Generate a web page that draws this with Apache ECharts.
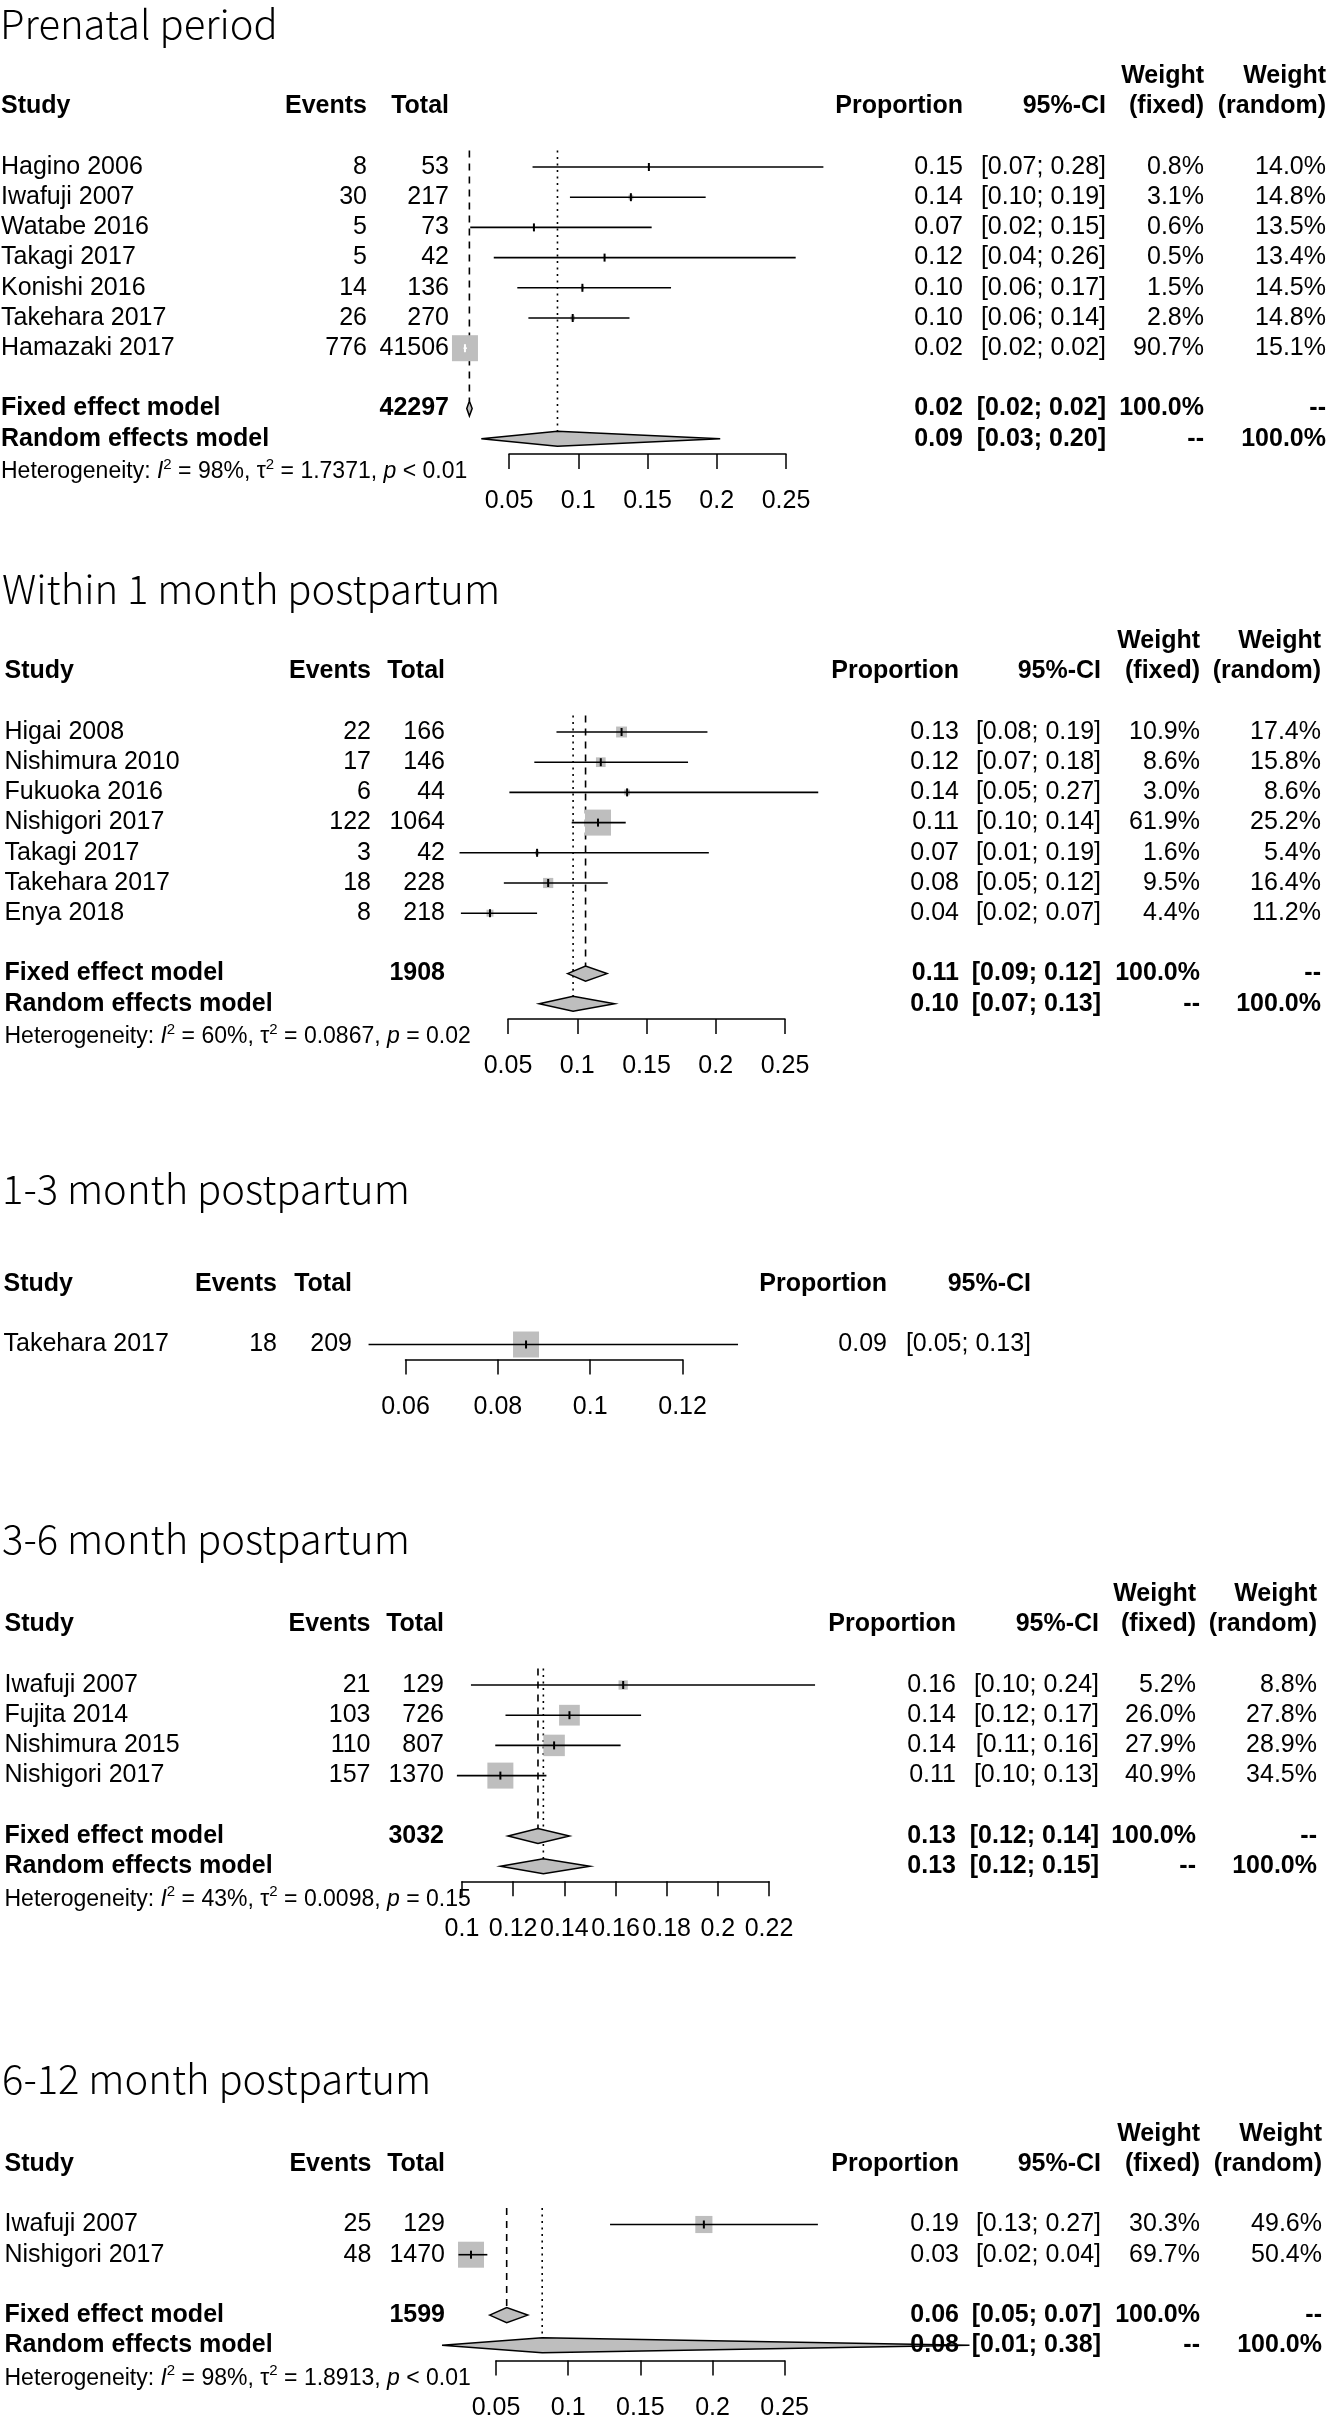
<!DOCTYPE html>
<html><head><meta charset="utf-8">
<script src="https://cdn.jsdelivr.net/npm/echarts@6/dist/echarts.min.js"></script>
<style>html,body{margin:0;padding:0;background:#fff}#c{width:1327px;height:2424px}</style>
</head><body><div id="c"></div>
<script>
// ================= DATA =================
const titles = ['Prenatal period', 'Within 1 month postpartum', '1-3 month postpartum', '3-6 month postpartum', '6-12 month postpartum'];

// Panel 1: Prenatal period
const p1Study = ['Hagino 2006', 'Iwafuji 2007', 'Watabe 2016', 'Takagi 2017', 'Konishi 2016', 'Takehara 2017', 'Hamazaki 2017'];
const p1Events = [8, 30, 5, 5, 14, 26, 776];
const p1Total = [53, 217, 73, 42, 136, 270, 41506];
const p1Est = [0.151, 0.138, 0.068, 0.119, 0.103, 0.096, 0.0182];
const p1Lo = [0.067, 0.094, 0.022, 0.039, 0.056, 0.064, 0.0172];
const p1Hi = [0.277, 0.192, 0.153, 0.257, 0.167, 0.137, 0.0196];
const p1Prop = ['0.15', '0.14', '0.07', '0.12', '0.10', '0.10', '0.02'];
const p1Ci = ['[0.07; 0.28]', '[0.10; 0.19]', '[0.02; 0.15]', '[0.04; 0.26]', '[0.06; 0.17]', '[0.06; 0.14]', '[0.02; 0.02]'];
const p1WFixed = [0.8, 3.1, 0.6, 0.5, 1.5, 2.8, 90.7];
const p1WRandom = [14.0, 14.8, 13.5, 13.4, 14.5, 14.8, 15.1];
const p1FixedVals = [0.0214, 0.0195, 0.0234];
const p1FixedText = ['42297', '0.02', '[0.02; 0.02]', '100.0%', '--'];
const p1RandomVals = [0.085, 0.030, 0.2025];
const p1RandomText = ['', '0.09', '[0.03; 0.20]', '--', '100.0%'];
const p1Het = ['98%', '1.7371', '< 0.01'];
const p1Ticks = [0.05, 0.1, 0.15, 0.2, 0.25];

// Panel 2: Within 1 month postpartum
const p2Study = ['Higai 2008', 'Nishimura 2010', 'Fukuoka 2016', 'Nishigori 2017', 'Takagi 2017', 'Takehara 2017', 'Enya 2018'];
const p2Events = [22, 17, 6, 122, 3, 18, 8];
const p2Total = [166, 146, 44, 1064, 42, 228, 218];
const p2Est = [0.132, 0.117, 0.136, 0.115, 0.071, 0.079, 0.037];
const p2Lo = [0.085, 0.069, 0.051, 0.096, 0.015, 0.047, 0.016];
const p2Hi = [0.194, 0.180, 0.274, 0.135, 0.195, 0.122, 0.071];
const p2Prop = ['0.13', '0.12', '0.14', '0.11', '0.07', '0.08', '0.04'];
const p2Ci = ['[0.08; 0.19]', '[0.07; 0.18]', '[0.05; 0.27]', '[0.10; 0.14]', '[0.01; 0.19]', '[0.05; 0.12]', '[0.02; 0.07]'];
const p2WFixed = [10.9, 8.6, 3.0, 61.9, 1.6, 9.5, 4.4];
const p2WRandom = [17.4, 15.8, 8.6, 25.2, 5.4, 16.4, 11.2];
const p2FixedVals = [0.106, 0.093, 0.1215];
const p2FixedText = ['1908', '0.11', '[0.09; 0.12]', '100.0%', '--'];
const p2RandomVals = [0.097, 0.0725, 0.127];
const p2RandomText = ['', '0.10', '[0.07; 0.13]', '--', '100.0%'];
const p2Het = ['60%', '0.0867', '= 0.02'];
const p2Ticks = [0.05, 0.1, 0.15, 0.2, 0.25];

// Panel 3: 1-3 month postpartum
const p3Study = ['Takehara 2017'];
const p3Events = [18];
const p3Total = [209];
const p3Est = [0.0861];
const p3Lo = [0.052];
const p3Hi = [0.132];
const p3Prop = ['0.09'];
const p3Ci = ['[0.05; 0.13]'];
const p3WFixed = [100];
const p3Ticks = [0.06, 0.08, 0.1, 0.12];

// Panel 4: 3-6 month postpartum
const p4Study = ['Iwafuji 2007', 'Fujita 2014', 'Nishimura 2015', 'Nishigori 2017'];
const p4Events = [21, 103, 110, 157];
const p4Total = [129, 726, 807, 1370];
const p4Est = [0.163, 0.142, 0.136, 0.115];
const p4Lo = [0.1035, 0.117, 0.113, 0.098];
const p4Hi = [0.238, 0.170, 0.162, 0.133];
const p4Prop = ['0.16', '0.14', '0.14', '0.11'];
const p4Ci = ['[0.10; 0.24]', '[0.12; 0.17]', '[0.11; 0.16]', '[0.10; 0.13]'];
const p4WFixed = [5.2, 26.0, 27.9, 40.9];
const p4WRandom = [8.8, 27.8, 28.9, 34.5];
const p4FixedVals = [0.1297, 0.118, 0.142];
const p4FixedText = ['3032', '0.13', '[0.12; 0.14]', '100.0%', '--'];
const p4RandomVals = [0.1318, 0.115, 0.150];
const p4RandomText = ['', '0.13', '[0.12; 0.15]', '--', '100.0%'];
const p4Het = ['43%', '0.0098', '= 0.15'];
const p4Ticks = [0.1, 0.12, 0.14, 0.16, 0.18, 0.2, 0.22];

// Panel 5: 6-12 month postpartum
const p5Study = ['Iwafuji 2007', 'Nishigori 2017'];
const p5Events = [25, 48];
const p5Total = [129, 1470];
const p5Est = [0.194, 0.0327];
const p5Lo = [0.129, 0.024];
const p5Hi = [0.273, 0.044];
const p5Prop = ['0.19', '0.03'];
const p5Ci = ['[0.13; 0.27]', '[0.02; 0.04]'];
const p5WFixed = [30.3, 69.7];
const p5WRandom = [49.6, 50.4];
const p5FixedVals = [0.0574, 0.0456, 0.072];
const p5FixedText = ['1599', '0.06', '[0.05; 0.07]', '100.0%', '--'];
const p5RandomVals = [0.082, 0.0126, 0.378];
const p5RandomText = ['', '0.08', '[0.01; 0.38]', '--', '100.0%'];
const p5Het = ['98%', '1.8913', '< 0.01'];
const p5Ticks = [0.05, 0.1, 0.15, 0.2, 0.25];

// ================= LAYOUT / STYLE =================
const FONT = "'Liberation Sans', Arial, Helvetica, sans-serif";
const TFONT = "'Noto Sans CJK JP', 'Noto Sans', sans-serif";
const GRAY = '#bebebe';
const MAXSQ = 26;
const ROWH = 30.2;

const panels = [
  {title: titles[0], study: p1Study, events: p1Events, total: p1Total, est: p1Est, lo: p1Lo, hi: p1Hi, prop: p1Prop, ci: p1Ci, wF: p1WFixed, wR: p1WRandom, fixedV: p1FixedVals, fixedT: p1FixedText, randomV: p1RandomVals, randomT: p1RandomText, het: p1Het, ticks: p1Ticks,
   L: {titleX: 0, titleY: 24, y0: 167, topRow: -3, axisRow: 9.5, fixedRow: 8, randomRow: 9, hetRow: 10.1, axisL: 509, axisW: 277, cols: {study: 1, events: 367, total: 449, prop: 963, ci: 1106, wf: 1204, wr: 1326}}},
  {title: titles[1], study: p2Study, events: p2Events, total: p2Total, est: p2Est, lo: p2Lo, hi: p2Hi, prop: p2Prop, ci: p2Ci, wF: p2WFixed, wR: p2WRandom, fixedV: p2FixedVals, fixedT: p2FixedText, randomV: p2RandomVals, randomT: p2RandomText, het: p2Het, ticks: p2Ticks,
   L: {titleX: 2, titleY: 589, y0: 732, topRow: -3, axisRow: 9.5, fixedRow: 8, randomRow: 9, hetRow: 10.1, axisL: 508, axisW: 277, cols: {study: 4.5, events: 371, total: 445, prop: 959, ci: 1101, wf: 1200, wr: 1321}}},
  {title: titles[2], study: p3Study, events: p3Events, total: p3Total, est: p3Est, lo: p3Lo, hi: p3Hi, prop: p3Prop, ci: p3Ci, wF: p3WFixed, wR: null, fixedV: null, randomV: null, het: null, ticks: p3Ticks,
   L: {titleX: 2, titleY: 1189, y0: 1344.5, topRow: -2, axisRow: 0.5, axisL: 405.5, axisW: 277.1, cols: {study: 3.5, events: 277, total: 352, prop: 887, ci: 1031}}},
  {title: titles[3], study: p4Study, events: p4Events, total: p4Total, est: p4Est, lo: p4Lo, hi: p4Hi, prop: p4Prop, ci: p4Ci, wF: p4WFixed, wR: p4WRandom, fixedV: p4FixedVals, fixedT: p4FixedText, randomV: p4RandomVals, randomT: p4RandomText, het: p4Het, ticks: p4Ticks,
   L: {titleX: 2, titleY: 1539, y0: 1685, topRow: -3, axisRow: 6.5, fixedRow: 5, randomRow: 6, hetRow: 7.1, axisL: 462, axisW: 307, cols: {study: 4.5, events: 370.5, total: 444, prop: 956, ci: 1099, wf: 1196, wr: 1317}}},
  {title: titles[4], study: p5Study, events: p5Events, total: p5Total, est: p5Est, lo: p5Lo, hi: p5Hi, prop: p5Prop, ci: p5Ci, wF: p5WFixed, wR: p5WRandom, fixedV: p5FixedVals, fixedT: p5FixedText, randomV: p5RandomVals, randomT: p5RandomText, het: p5Het, ticks: p5Ticks,
   L: {titleX: 2, titleY: 2079, y0: 2224.5, topRow: -3, axisRow: 4.5, fixedRow: 3, randomRow: 4, hetRow: 5.1, axisL: 496, axisW: 288.7, cols: {study: 4.5, events: 371.4, total: 445, prop: 959, ci: 1101, wf: 1200, wr: 1322}}}
];

// ================= BUILD =================
const grids = [], xAxes = [], yAxes = [], series = [], graphics = [];

function txt(x, text, align, bold) { return {x, text, align, bold}; }

panels.forEach((P, pi) => {
  const L = P.L, C = L.cols;
  const top = L.y0 + L.topRow * ROWH;
  const height = (L.axisRow - L.topRow) * ROWH;
  grids.push({left: L.axisL, top: top, width: L.axisW, height: height, containLabel: false});
  const t = P.ticks;
  xAxes.push({
    type: 'value', gridIndex: pi, min: t[0], max: t[t.length - 1], interval: t[1] - t[0],
    position: 'bottom',
    axisLine: {show: true, onZero: false, lineStyle: {color: '#000', width: 1.5}},
    axisTick: {show: true, inside: false, length: 15, lineStyle: {color: '#000', width: 1.5}},
    axisLabel: {show: true, color: '#000', fontSize: 25, fontFamily: FONT, margin: 35,
      formatter: v => { const m = t.find(x => Math.abs(x - v) < 1e-9); return m === undefined ? '' : String(m); }},
    splitLine: {show: false}
  });
  yAxes.push({type: 'value', gridIndex: pi, inverse: true, min: L.topRow, max: L.axisRow, show: false});

  const x0 = t[0];
  const wmax = Math.max(...P.wF);

  // reference lines (fixed: dashed, random: dotted)
  if (P.fixedV) {
    series.push({type: 'custom', xAxisIndex: pi, yAxisIndex: pi, clip: false, silent: true,
      data: [[P.fixedV[0], -0.55, L.fixedRow - 0.25]],
      renderItem: (params, api) => {
        const a = api.coord([api.value(0), api.value(1)]), b = api.coord([api.value(0), api.value(2)]);
        return {type: 'line', shape: {x1: a[0], y1: a[1], x2: b[0], y2: b[1]}, style: {stroke: '#000', lineWidth: 1.6, lineDash: [7, 6]}};
      }});
    series.push({type: 'custom', xAxisIndex: pi, yAxisIndex: pi, clip: false, silent: true,
      data: [[P.randomV[0], -0.55, L.randomRow - 0.25]],
      renderItem: (params, api) => {
        const a = api.coord([api.value(0), api.value(1)]), b = api.coord([api.value(0), api.value(2)]);
        return {type: 'line', shape: {x1: a[0], y1: a[1], x2: b[0], y2: b[1]}, style: {stroke: '#000', lineWidth: 1.6, lineDash: [2, 4.5]}};
      }});
  }

  // studies: square + CI + estimate tick
  series.push({type: 'custom', xAxisIndex: pi, yAxisIndex: pi, clip: false, silent: true,
    data: P.est.map((e, i) => [e, i, P.lo[i], P.hi[i], MAXSQ * Math.sqrt(P.wF[i] / wmax)]),
    renderItem: (params, api) => {
      const e = api.value(0), r = api.value(1), lo = api.value(2), hi = api.value(3), s = api.value(4);
      const c = api.coord([e, r]), a = api.coord([lo, r]), b = api.coord([hi, r]);
      const inside = a[0] >= c[0] - s / 2 && b[0] <= c[0] + s / 2;
      const col = inside ? '#fff' : '#000';
      return {type: 'group', children: [
        {type: 'rect', shape: {x: c[0] - s / 2, y: c[1] - s / 2, width: s, height: s}, style: {fill: GRAY}},
        {type: 'line', shape: {x1: a[0], y1: c[1], x2: b[0], y2: c[1]}, style: {stroke: col, lineWidth: 1.6}},
        {type: 'line', shape: {x1: c[0], y1: c[1] - 4, x2: c[0], y2: c[1] + 4}, style: {stroke: col, lineWidth: 2}}
      ]};
    }});

  // diamonds
  if (P.fixedV) {
    series.push({type: 'custom', xAxisIndex: pi, yAxisIndex: pi, clip: false, silent: true,
      data: [[P.fixedV[0], L.fixedRow, P.fixedV[1], P.fixedV[2]], [P.randomV[0], L.randomRow, P.randomV[1], P.randomV[2]]],
      renderItem: (params, api) => {
        const e = api.value(0), r = api.value(1), lo = api.value(2), hi = api.value(3);
        const c = api.coord([e, r]), a = api.coord([lo, r]), b = api.coord([hi, r]);
        const h = 7.5;
        return {type: 'polygon', shape: {points: [[a[0], c[1]], [c[0], c[1] - h], [b[0], c[1]], [c[0], c[1] + h]]},
          style: {fill: GRAY, stroke: '#000', lineWidth: 1.5}};
      }});
  }

  // text table
  const rows = [];
  if (P.wR) rows.push({row: -3, cells: [txt(C.wf, 'Weight', 'right', true), txt(C.wr, 'Weight', 'right', true)]});
  const hdr = [txt(C.study, 'Study', 'left', true), txt(C.events, 'Events', 'right', true), txt(C.total, 'Total', 'right', true),
    txt(C.prop, 'Proportion', 'right', true), txt(C.ci, '95%-CI', 'right', true)];
  if (P.wR) hdr.push(txt(C.wf, '(fixed)', 'right', true), txt(C.wr, '(random)', 'right', true));
  rows.push({row: -2, cells: hdr});
  P.study.forEach((s, i) => {
    const cells = [txt(C.study, s, 'left', false), txt(C.events, String(P.events[i]), 'right', false), txt(C.total, String(P.total[i]), 'right', false),
      txt(C.prop, P.prop[i], 'right', false), txt(C.ci, P.ci[i], 'right', false)];
    if (P.wR) cells.push(txt(C.wf, P.wF[i].toFixed(1) + '%', 'right', false), txt(C.wr, P.wR[i].toFixed(1) + '%', 'right', false));
    rows.push({row: i, cells});
  });
  if (P.fixedV) {
    rows.push({row: L.fixedRow, cells: [txt(C.study, 'Fixed effect model', 'left', true), txt(C.total, P.fixedT[0], 'right', true),
      txt(C.prop, P.fixedT[1], 'right', true), txt(C.ci, P.fixedT[2], 'right', true), txt(C.wf, P.fixedT[3], 'right', true), txt(C.wr, P.fixedT[4], 'right', true)]});
    rows.push({row: L.randomRow, cells: [txt(C.study, 'Random effects model', 'left', true),
      txt(C.prop, P.randomT[1], 'right', true), txt(C.ci, P.randomT[2], 'right', true), txt(C.wf, P.randomT[3], 'right', true), txt(C.wr, P.randomT[4], 'right', true)]});
    rows.push({row: L.hetRow, het: true, cells: [{x: C.study, text: 'Heterogeneity: {it|I}{sup|2} = ' + P.het[0] + ', \u03c4{sup|2} = ' + P.het[1] + ', {it|p} ' + P.het[2], align: 'left'}]});
  }
  series.push({type: 'custom', xAxisIndex: pi, yAxisIndex: pi, clip: false, silent: true,
    data: rows.map((r, k) => [x0, r.row, k]),
    renderItem: (params, api) => {
      const R = rows[api.value(2)];
      const y = api.coord([x0, api.value(1)])[1];
      return {type: 'group', children: R.cells.map(c => {
        if (R.het) {
          return {type: 'text', x: c.x, y: y, style: {text: c.text, align: 'left', verticalAlign: 'middle', fill: '#000',
            fontFamily: FONT, fontSize: 23, lineHeight: 30,
            rich: {it: {fontFamily: FONT, fontSize: 23, fontStyle: 'italic', fill: '#000', lineHeight: 30},
                   sup: {fontFamily: FONT, fontSize: 15, fill: '#000', verticalAlign: 'top', lineHeight: 16}}}};
        }
        return {type: 'text', x: c.x, y: y, style: {text: c.text, align: c.align, verticalAlign: 'middle', fill: '#000',
          fontFamily: FONT, fontSize: 25, fontWeight: c.bold ? 'bold' : 'normal'}};
      })};
    }});

  graphics.push({type: 'text', x: L.titleX, y: L.titleY, silent: true,
    style: {text: P.title, fontFamily: TFONT, fontWeight: 300, fontSize: 40, fill: '#000', align: 'left', verticalAlign: 'middle'}});
});

const chart = echarts.init(document.getElementById('c'), null, {renderer: 'canvas'});
chart.setOption({
  animation: false,
  backgroundColor: '#fff',
  grid: grids, xAxis: xAxes, yAxis: yAxes, series: series, graphic: graphics
});
</script>
</body></html>
